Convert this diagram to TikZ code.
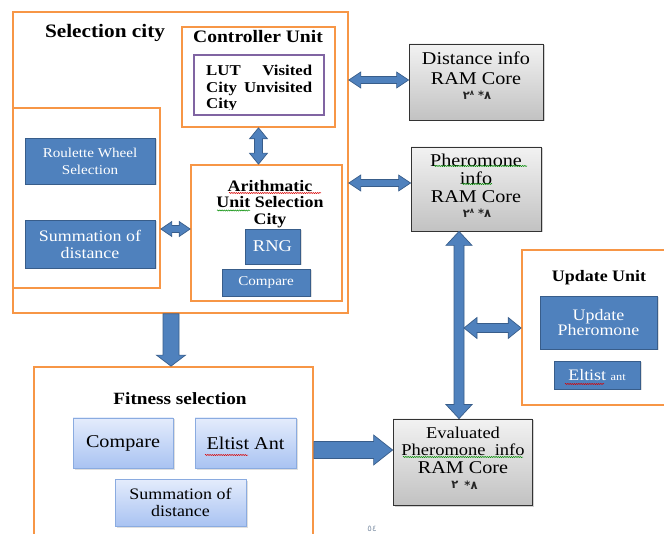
\documentclass[tikz,border=0pt]{standalone}
\usepackage{fontspec}
\setmainfont{Liberation Serif}[FakeStretch=1.12]
\newfontfamily\arabfont{DejaVu Sans}
\usetikzlibrary{calc,shadows,decorations.pathmorphing}
\definecolor{orng}{HTML}{F79646}
\definecolor{purp}{HTML}{8064A2}
\definecolor{bfill}{HTML}{4F81BD}
\definecolor{bline}{HTML}{385D8A}
\definecolor{ltop}{HTML}{E4ECFC}
\definecolor{lbot}{HTML}{A9C3F2}
\definecolor{lline}{HTML}{8AABE0}
\definecolor{gtop}{HTML}{F2F2F2}
\definecolor{gbot}{HTML}{C2C2C2}
\definecolor{pgno}{HTML}{8797AB}
\newcommand{\fsz}[2]{\fontsize{#1}{#2}\selectfont}
\newcommand{\dblarrow}[5]{%
\filldraw[blockarr]
 (#1)
 -- ($($(#1)!#5!(#2)$)!#4!90:(#2)$)
 -- ($($(#1)!#5!(#2)$)!#3!90:(#2)$)
 -- ($($(#2)!#5!(#1)$)!#3!-90:(#1)$)
 -- ($($(#2)!#5!(#1)$)!#4!-90:(#1)$)
 -- (#2)
 -- ($($(#2)!#5!(#1)$)!#4!90:(#1)$)
 -- ($($(#2)!#5!(#1)$)!#3!90:(#1)$)
 -- ($($(#1)!#5!(#2)$)!#3!-90:(#2)$)
 -- ($($(#1)!#5!(#2)$)!#4!-90:(#2)$)
 -- cycle;}
\newcommand{\onearrow}[5]{%
\filldraw[blockarr]
 ($(#1)!#3!90:(#2)$)
 -- ($($(#2)!#5!(#1)$)!#3!-90:(#1)$)
 -- ($($(#2)!#5!(#1)$)!#4!-90:(#1)$)
 -- (#2)
 -- ($($(#2)!#5!(#1)$)!#4!90:(#1)$)
 -- ($($(#2)!#5!(#1)$)!#3!90:(#1)$)
 -- ($(#1)!#3!-90:(#2)$)
 -- cycle;}
\begin{document}
\begin{tikzpicture}[x=1pt,y=-1pt,
  obox/.style={draw=orng,line width=1.7pt,inner sep=0pt},
  pbox/.style={draw=purp,line width=1.5pt,inner sep=0pt},
  bluebox/.style={fill=bfill,draw=bline,line width=0.8pt,text=white,inner sep=0pt,align=center,
     drop shadow={opacity=0.25,shadow xshift=1.5pt,shadow yshift=-1.5pt}},
  graybox/.style={top color=gtop,bottom color=gbot,draw=black!80,line width=0.8pt,inner sep=0pt,
     drop shadow={opacity=0.35,shadow xshift=1.5pt,shadow yshift=-1.5pt}},
  lightbox/.style={top color=ltop,bottom color=lbot,draw=lline,line width=0.8pt,inner sep=0pt,align=center,
     drop shadow={opacity=0.25,shadow xshift=1.5pt,shadow yshift=-1.5pt}},
  txt/.style={inner sep=0pt,align=center},
  arab/.style={inner sep=0pt,font=\arabfont\bfseries\fsz{11.5}{13},text=black!85},
  blockarr/.style={fill=bfill,draw=bline,line width=0.7pt,line join=miter},
  wavyred/.style={draw=red!85!black,line width=0.5pt,decorate,decoration={snake,amplitude=0.6pt,segment length=2.2pt}},
  wavygreen/.style={draw=green!55!black,line width=0.5pt,decorate,decoration={snake,amplitude=0.6pt,segment length=2.2pt}},
]
\clip (0,0) rectangle (664,534);
\fill[white] (0,0) rectangle (664,534);

% ---------- Selection city ----------
\node[obox,minimum width=335pt,minimum height=301pt] (sel) at (180.5,162.5) {};
\node[txt,font=\bfseries\fsz{19}{22}] (selT) at (105,33) {Selection city};

\node[obox,minimum width=153pt,minimum height=100pt] (ctrl) at (258.5,77) {};
\node[txt,font=\bfseries\fsz{17.5}{20}] (ctrlT) at (258,37) {Controller Unit};
\node[pbox,minimum width=130pt,minimum height=60pt] (lut) at (259,85) {};
\begin{scope}
\clip (195,56) rectangle (323,109.5);
\node[inner sep=0pt,anchor=base west,font=\bfseries\fsz{15}{16.5}] (lutT) at (206,76)
  {\parbox[t]{106pt}{LUT\hfill Visited\\City\hfill Unvisited\\City}};
\end{scope}

\node[obox,minimum width=147pt,minimum height=180pt] (leftb) at (86.5,198) {};
\node[bluebox,minimum width=130pt,minimum height=46pt,font=\fsz{13.5}{17}] (roul) at (90,161) {Roulette Wheel\\Selection};
\node[bluebox,minimum width=130pt,minimum height=48pt,font=\fsz{16}{17}] (sumA) at (90,244) {Summation of\\distance};

\node[obox,minimum width=151pt,minimum height=136pt] (arith) at (266.5,233) {};
\node[txt,font=\bfseries\fsz{16}{16.5}] (arithT) at (270,204) {Arithmatic\\Unit Selection\\City};
\node[bluebox,minimum width=55pt,minimum height=35pt,font=\fsz{16.5}{18}] (rng) at (272.5,246.5) {RNG};
\node[bluebox,minimum width=88pt,minimum height=27pt,font=\fsz{13.5}{16}] (cmpA) at (266,282.5) {Compare};

% ---------- RAM cores ----------
\node[graybox,minimum width=134pt,minimum height=76pt] (dist) at (476,82) {};
\node[txt,font=\fsz{18}{20}] (distT) at (476,68) {Distance info\\RAM Core};
\node[arab] (distA) at (477,95) {٢\raisebox{0.6ex}{\fsz{7}{8}٨}\ *٨};

\node[graybox,minimum width=130pt,minimum height=84pt] (pher) at (476,189) {};
\node[txt,font=\fsz{18}{18}] (pherT) at (476,178) {Pheromone\\info\\RAM Core};
\node[arab] (pherA) at (477,213) {٢\raisebox{0.6ex}{\fsz{7}{8}٨}\ *٨};

\node[graybox,minimum width=139pt,minimum height=86pt] (eval) at (462.5,462) {};
\node[txt,font=\fsz{16.5}{17.5}] (evalT) at (463,450) {Evaluated\\Pheromone\ \ info\\{\fsz{18}{18}RAM Core}};
\node[arab] (evalA1) at (455,485) {٢};
\node[arab] (evalA2) at (471,485) {*٨};

% ---------- Update unit ----------
\node[obox,minimum width=148pt,minimum height=155pt] (upd) at (596,327.5) {};
\node[txt,font=\bfseries\fsz{16}{18}] (updT) at (599,278) {Update Unit};
\node[bluebox,minimum width=117pt,minimum height=53pt,font=\fsz{16}{15.5}] (updP) at (598.5,322.5) {Update\\Pheromone};
\node[bluebox,minimum width=86pt,minimum height=28pt,font=\fsz{16}{18}] (elA) at (597,375) {Eltist {\fsz{11}{12}ant}};

% ---------- Fitness selection ----------
\node[obox,minimum width=279pt,minimum height=173pt] (fit) at (173.5,453.5) {};
\node[txt,font=\bfseries\fsz{17.2}{20}] (fitT) at (180,399) {Fitness selection};
\node[lightbox,minimum width=100pt,minimum height=50pt,font=\fsz{18}{20}] (cmpF) at (123,443) {Compare};
\node[lightbox,minimum width=101pt,minimum height=50pt,font=\fsz{18}{20}] (elF) at (245.5,443) {Eltist Ant};
\node[lightbox,minimum width=131pt,minimum height=47pt,font=\fsz{16}{17}] (sumF) at (180.5,502.5) {Summation of\\distance};

\node[txt,font=\arabfont\fsz{8.5}{9},text=pgno] (pageno) at (372,529) {٥٤};

% ---------- spell-check squiggles ----------
\draw[wavyred] (229,193) -- (321,193);
\draw[wavygreen] (217,210.5) -- (250,210.5);
\draw[wavygreen] (434,166) -- (527,166);
\draw[wavygreen] (462,184) -- (492,184);
\draw[wavygreen] (403,457) -- (523,457);
\draw[wavyred] (205,455) -- (248,455);
\draw[wavyred] (565,384) -- (604,384);

% ---------- helper coordinates ----------
\coordinate (y80) at (0,80);
\coordinate (y183) at (0,183);
\coordinate (y229) at (0,229);
\coordinate (y450) at (0,450);
\coordinate (x171) at (171,0);
\coordinate (x459) at (459,0);
\coordinate (a1s) at (sel.east |- y80);
\coordinate (a1e) at (dist.west |- y80);
\coordinate (a2s) at (sel.east |- y183);
\coordinate (a2e) at (pher.west |- y183);
\coordinate (a3s) at (ctrl.south);
\coordinate (a3e) at (ctrl.south |- arith.north);
\coordinate (a4s) at (leftb.east |- y229);
\coordinate (a4e) at (arith.west |- y229);
\coordinate (a5s) at (x459 |- pher.south);
\coordinate (a5e) at (x459 |- eval.north);
\coordinate (a6s) at (464,328);
\coordinate (a6e) at (upd.west |- a6s);
\coordinate (a7s) at (x171 |- sel.south);
\coordinate (a7e) at (x171 |- fit.north);
\coordinate (a8s) at (fit.east |- y450);
\coordinate (a8e) at (eval.west |- y450);

% ---------- block arrows ----------
\dblarrow{a1s}{a1e}{3.5pt}{8pt}{12pt}
\dblarrow{a2s}{a2e}{3.5pt}{8pt}{12pt}
\dblarrow{a3s}{a3e}{4pt}{9pt}{11pt}
\dblarrow{a4s}{a4e}{3.5pt}{7.5pt}{11pt}
\dblarrow{a5s}{a5e}{5pt}{13pt}{14pt}
\dblarrow{a6s}{a6e}{4.5pt}{10.5pt}{13pt}
\onearrow{a7s}{a7e}{8pt}{14.5pt}{11pt}
\onearrow{a8s}{a8e}{8.5pt}{15pt}{19pt}
\end{tikzpicture}
\end{document}
